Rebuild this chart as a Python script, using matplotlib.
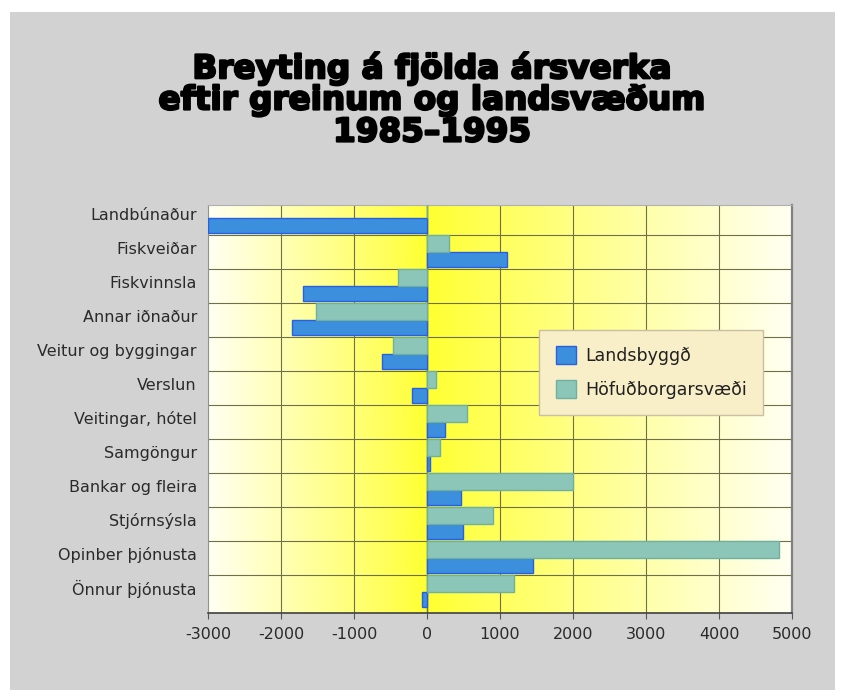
import numpy as np
import matplotlib
matplotlib.use("Agg")
import matplotlib.pyplot as plt
import matplotlib.patheffects as pe
from matplotlib.colors import LinearSegmentedColormap
from matplotlib.patches import Rectangle

# data
categories = ["Landbúnaður", "Fiskveiðar", "Fiskvinnsla", "Annar iðnaður",
              "Veitur og byggingar", "Verslun", "Veitingar, hótel", "Samgöngur",
              "Bankar og fleira", "Stjórnsýsla", "Opinber þjónusta", "Önnur þjónusta"]
landsbyggd = [-3000, 1100, -1700, -1850, -620, -200, 240, 40, 460, 490, 1450, -70]
hofudborg = [0, 300, -400, -1520, -470, 130, 550, 180, 2000, 900, 4820, 1190]
series_names = ["Landsbyggð", "Höfuðborgarsvæði"]
xticks = [-3000, -2000, -1000, 0, 1000, 2000, 3000, 4000, 5000]
title_lines = ["Breyting á fjölda ársverka", "eftir greinum og landsvæðum", "1985–1995"]

blue = "#3b8fdc"
blue_edge = "#2a5fe0"
teal = "#8cc6b8"
teal_edge = "#70b0a0"

fig = plt.figure(figsize=(8.41, 6.98), dpi=100)
fig.patch.set_facecolor("white")
# grey panel behind everything
fig.patches.append(Rectangle((10 / 841, 8 / 698), 825 / 841, 678 / 698,
                             transform=fig.transFigure, facecolor="#d2d2d2",
                             edgecolor="none", zorder=-10))

ax = fig.add_axes([208 / 841, 1 - 613 / 698, 584 / 841, 408 / 698])
xmin, xmax = xticks[0], xticks[-1]
ylo, yhi = len(categories) - 0.38, -0.38

# yellow gradient background, brightest at zero
xs = np.linspace(xmin, xmax, 800)
t = np.where(xs < 0, xs / xmin, xs / xmax)
cmap = LinearSegmentedColormap.from_list("yel", ["#ffff30", "#ffff90", "#fffff2"])
ax.imshow(t[np.newaxis, :] ** 0.9, cmap=cmap, aspect="auto",
          extent=[xmin, xmax, ylo, yhi], zorder=0, vmin=0, vmax=1)

y = np.arange(len(categories))
ax.barh(y + 0.22, landsbyggd, height=0.46, color=blue, edgecolor=blue_edge,
        linewidth=1.0, zorder=3, label=series_names[0])
ax.barh(y - 0.25, hofudborg, height=0.48, color=teal, edgecolor=teal_edge,
        linewidth=1.0, zorder=3, label=series_names[1])

ax.set_xlim(xmin, xmax)
ax.set_ylim(ylo, yhi)
ax.set_xticks(xticks)
ax.set_xticklabels([str(v) for v in xticks])
ax.set_yticks(y - 0.12)
ax.set_yticklabels(categories)
ax.tick_params(axis="y", length=0, pad=8, labelsize=11.5, labelcolor="#2a2a2a")
ax.tick_params(axis="x", length=4, width=0.8, color="#555555", pad=6,
               labelsize=11.5, labelcolor="#2a2a2a")

for v in xticks[1:-1]:
    ax.axvline(v, color="#6f6f4a", lw=0.8, zorder=1)
for b in y[:-1] + 0.5:
    ax.axhline(b, color="#6f6f4a", lw=0.8, zorder=1)
ax.axvline(0, color="#707050", lw=1.0, zorder=2)

ax.spines["left"].set_color("#909090")
ax.spines["top"].set_color("#b0b0b0")
ax.spines["right"].set_color("#808080")
ax.spines["right"].set_linewidth(1.6)
ax.spines["bottom"].set_color("#404040")
ax.spines["bottom"].set_linewidth(1.2)

leg = ax.legend(loc="upper left", bbox_to_anchor=(0.567, 0.694), fontsize=12.5,
                frameon=True, fancybox=False, borderpad=0.95, labelspacing=0.85,
                handlelength=1.2, handleheight=1.2, handletextpad=0.5,
                borderaxespad=0)
leg.get_frame().set_facecolor("#f8eec8")
leg.get_frame().set_edgecolor("#c8c0a0")
leg.get_frame().set_alpha(1)
for h in leg.legend_handles:
    h.set_linewidth(1.0)
for txt in leg.get_texts():
    txt.set_color("#202020")

for i, line in enumerate(title_lines):
    fig.text(432 / 841, 1 - (68 + 32 * i) / 698, line, ha="center", va="center",
             fontsize=23.5, fontweight="bold", family="DejaVu Sans", color="black",
             path_effects=[pe.withStroke(linewidth=1.6, foreground="black")])

fig.savefig("out.png", dpi=100)
